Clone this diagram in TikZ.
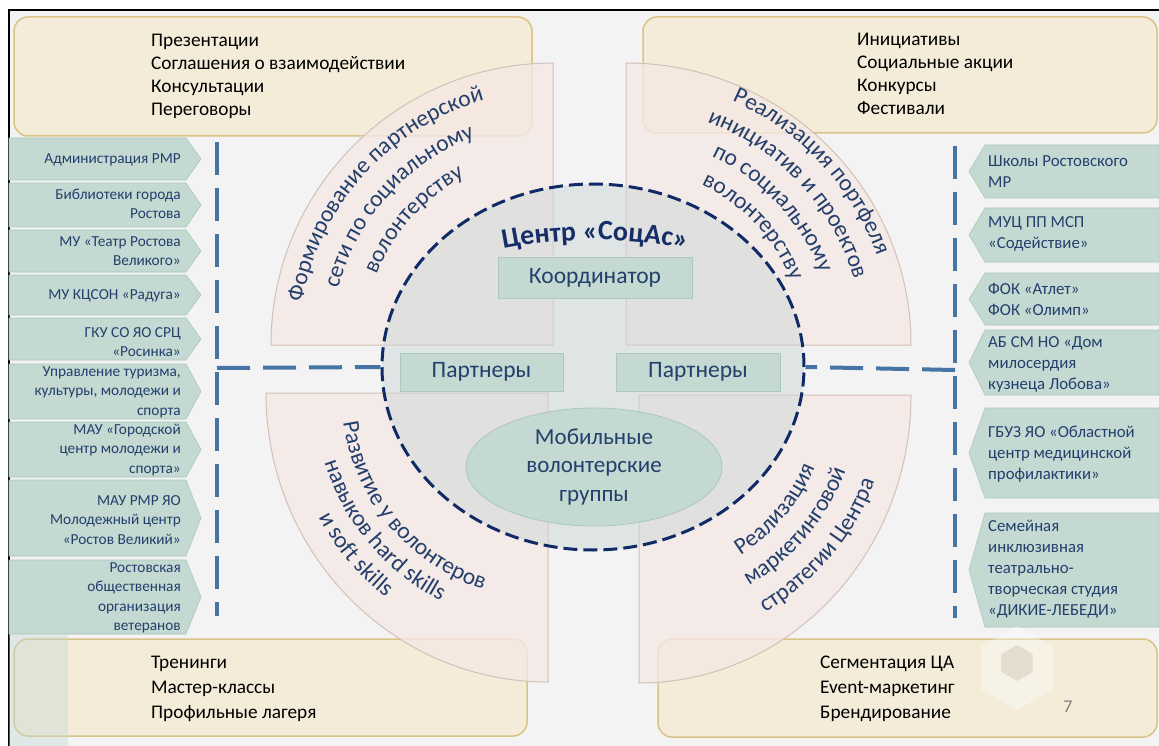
\documentclass[tikz,border=0pt]{standalone}
\usepackage{fontspec}
\setmainfont{Carlito}
\usetikzlibrary{shapes.geometric,decorations.text}

\definecolor{bgcol}{HTML}{F3F3F3}
\definecolor{cream}{HTML}{F4ECD9}
\definecolor{creamedge}{HTML}{D9C387}
\definecolor{quadpink}{HTML}{F5E8E4}
\definecolor{quadedge}{HTML}{D3C0B8}
\definecolor{teal1}{HTML}{C3D9D2}
\definecolor{tealedge}{HTML}{ABC7BF}
\definecolor{navytext}{HTML}{243F6C}
\definecolor{titlenavy}{HTML}{172D68}
\definecolor{dashnavy}{HTML}{102A66}
\definecolor{dashblue}{HTML}{4675A5}
\definecolor{ellfill}{HTML}{CDD8D8}
\definecolor{hexgray}{HTML}{E3DDCD}

\newcommand{\qfont}{\fontsize{23.5}{27}\selectfont}
\newcommand{\titlefont}{\fontsize{28}{32}\selectfont\bfseries}

% partner arrows, left column and right column
\newcommand{\lpart}[5]{%
  \path[partarrow] (9,#2) -- (186,#2) -- (201,{(#2+#3)/2}) -- (186,#3) -- (9,#3) -- cycle;
  \node[ltext] (#1) at (181,#4) {#5};}
\newcommand{\rpart}[5]{%
  \path[partarrow] (1159,#2) -- (985,#2) -- (969,{(#2+#3)/2}) -- (985,#3) -- (1159,#3) -- cycle;
  \node[rtext] (#1) at (988,#4) {#5};}
% one line of text on a quarter arc: centre, start, end, radius, text
\newcommand{\arcline}[5]{%
  \path[quadtext={#5}] ([shift={(#2:#4)}]#1) arc[start angle=#2, end angle=#3, radius=#4];}

\begin{document}
\begin{tikzpicture}[x=1pt,y=-1pt,
  planbox/.style={rounded corners=14pt, fill=cream, draw=creamedge, line width=1.5pt},
  quad/.style={fill=quadpink, fill opacity=.8, draw=quadedge, line width=1pt},
  partarrow/.style={fill=teal1, draw=tealedge, line width=.6pt},
  ltext/.style={anchor=east, align=right, inner sep=0pt, text=navytext, font=\fontsize{15.3}{19.5}\selectfont},
  rtext/.style={anchor=west, align=left, inner sep=0pt, text=navytext, font=\fontsize{16.8}{21}\selectfont},
  boxtext/.style={anchor=west, align=left, inner sep=0pt, font=\fontsize{19.3}{23}\selectfont},
  tealbox/.style={fill=teal1, draw=tealedge, line width=.8pt, text=navytext, font=\fontsize{23.5}{26}\selectfont},
  dashline/.style={draw=dashblue, line width=4pt, dash pattern=on 33pt off 13pt},
  quadtext/.style={decorate, decoration={text along path, text align=center, text color=navytext, text={|\qfont|#1}}}
]
\useasboundingbox (0,0) rectangle (1159,746);
\fill[white] (0,0) rectangle (1159,746);
\fill[bgcol] (9,10) rectangle (1159,746);
\draw[black, line width=1.5pt] (9,746) -- (9,10) -- (1159,10);

% task boxes
\draw[planbox] (14,17) rectangle (532,136);
\draw[planbox] (643,17) rectangle (1157,133);
\draw[planbox] (14,639) rectangle (527,736);
\draw[planbox] (658,639) rectangle (1157,737);

% quarters
\draw[quad] (553,345) -- ++(-282,0) arc[start angle=180, end angle=270, x radius=282, y radius=282] -- cycle;
\draw[quad] (626,345) -- ++(0,-282) arc[start angle=270, end angle=360, x radius=285, y radius=282] -- cycle;
\draw[quad] (548,393) -- ++(-282,0) arc[start angle=180, end angle=90, x radius=282, y radius=289] -- cycle;
\draw[quad] (639,395) -- ++(272,0) arc[start angle=0, end angle=90, x radius=272, y radius=288] -- cycle;

\node[boxtext] (tasksTL) at (151,76) {Презентации\\Соглашения о взаимодействии\\Консультации\\Переговоры};
\node[boxtext] (tasksTR) at (857,74) {Инициативы\\Социальные акции\\Конкурсы\\Фестивали};
\node[boxtext, font=\fontsize{19.3}{25}\selectfont] (tasksBL) at (151,689) {Тренинги\\Мастер-классы\\Профильные лагеря};
\node[boxtext, font=\fontsize{19.3}{25}\selectfont] (tasksBR) at (820,689) {Сегментация ЦА\\Event-маркетинг\\Брендирование};

% partners
\lpart{adm}{138}{180}{160}{Администрация РМР}
\lpart{lib}{183}{227}{204}{Библиотеки города\\Ростова}
\lpart{theatre}{230}{272}{251}{МУ «Театр Ростова\\Великого»}
\lpart{kcson}{275}{315}{296}{МУ КЦСОН «Радуга»}
\lpart{rosinka}{318}{360}{342}{ГКУ СО ЯО СРЦ\\«Росинка»}
\lpart{tourism}{364}{419}{392}{Управление туризма,\\культуры, молодежи и\\спорта}
\lpart{youth}{422}{477}{450}{МАУ «Городской\\центр молодежи и\\спорта»}
\lpart{rostov}{480}{556}{520}{МАУ РМР ЯО\\Молодежный центр\\«Ростов Великий»}
\lpart{veterans}{560}{634}{598}{Ростовская\\общественная\\организация\\ветеранов}

\rpart{schools}{145}{198}{172}{Школы Ростовского\\МР}
\rpart{muc}{208}{262}{234}{МУЦ ПП МСП\\«Содействие»}
\rpart{fok}{273}{325}{299}{ФОК «Атлет»\\ФОК «Олимп»}
\rpart{mercy}{330}{395}{364}{АБ СМ НО «Дом\\милосердия\\кузнеца Лобова»}
\rpart{health}{408}{498}{454}{ГБУЗ ЯО «Областной\\центр медицинской\\профилактики»}
\rpart{swans}{513}{627}{569}{Семейная\\инклюзивная\\театрально-\\творческая студия\\«ДИКИЕ-ЛЕБЕДИ»}

\fill[teal1, opacity=.4] (9,634) rectangle (68,746);

% dashed links
\coordinate (ltop) at (217,142);
\coordinate (lbot) at (217,616);
\coordinate (lcorner) at (217,368);
\coordinate (rtop) at (955,146);
\coordinate (rbot) at (955,618);
\coordinate (rcorner) at (955,370);
\draw[dashline] (ltop) -- (lbot);
\draw[dashline] (rtop) -- (rbot);

% centre
\node[ellipse, draw=dashnavy, line width=3pt, dash pattern=on 14pt off 6pt, fill=ellfill, fill opacity=.5,
  minimum width=422pt, minimum height=366pt, inner sep=0pt] (centre) at (593,367) {};
\draw[dashline] (lcorner) -- (centre.west);
\draw[dashline] (rcorner) -- (centre.east);

\node[tealbox, minimum width=194pt, minimum height=41pt] (coord) at (595,277.5) {Координатор};
\node[tealbox, minimum width=163pt, minimum height=38pt] (partL) at (481.5,372) {Партнеры};
\node[tealbox, minimum width=164pt, minimum height=38pt] (partR) at (698,372) {Партнеры};
\node[ellipse, fill=teal1, draw=tealedge, line width=.8pt, minimum width=256pt, minimum height=118pt, inner sep=0pt,
  align=center, text=navytext, font=\fontsize{23}{28.5}\selectfont] (mobile) at (594,467) {Мобильные\\волонтерские\\группы};

\path[decorate, decoration={text along path, text align=center, text color=titlenavy, text={|\titlefont|Центр «СоцАс»}}]
  ([shift={(250:467)}]595,707) arc[start angle=250, end angle=290, radius=467];

% arc texts of the quarters
\arcline{553,345}{177}{267}{254}{Формирование партнерской}
\arcline{553,345}{177}{267}{222}{сети по социальному}
\arcline{553,345}{177}{267}{190}{волонтерству}
\arcline{626,345}{272}{362}{266}{Реализация портфеля}
\arcline{626,345}{272}{362}{237}{инициатив и проектов}
\arcline{626,345}{272}{362}{207}{по социальному}
\arcline{626,345}{272}{362}{177}{волонтерству}
\arcline{548,393}{185}{95}{207}{Развитие у волонтеров}
\arcline{548,393}{185}{95}{234}{навыков hard skills}
\arcline{548,393}{185}{95}{261}{и soft skills}
\arcline{639,395}{85}{-5}{190}{Реализация}
\arcline{639,395}{85}{-5}{220}{маркетинговой}
\arcline{639,395}{85}{-5}{251}{стратегии Центра}

% slide decoration
\node[regular polygon, regular polygon sides=6, shape border rotate=30, minimum size=84pt, fill=white, fill opacity=.35] (hexout) at (1017,668) {};
\node[regular polygon, regular polygon sides=6, shape border rotate=30, minimum size=36pt, fill=hexgray] (hexin) at (1017,663) {};
\node[text=gray, font=\fontsize{18}{20}\selectfont] (pagenum) at (1068,707) {7};
\end{tikzpicture}
\end{document}
